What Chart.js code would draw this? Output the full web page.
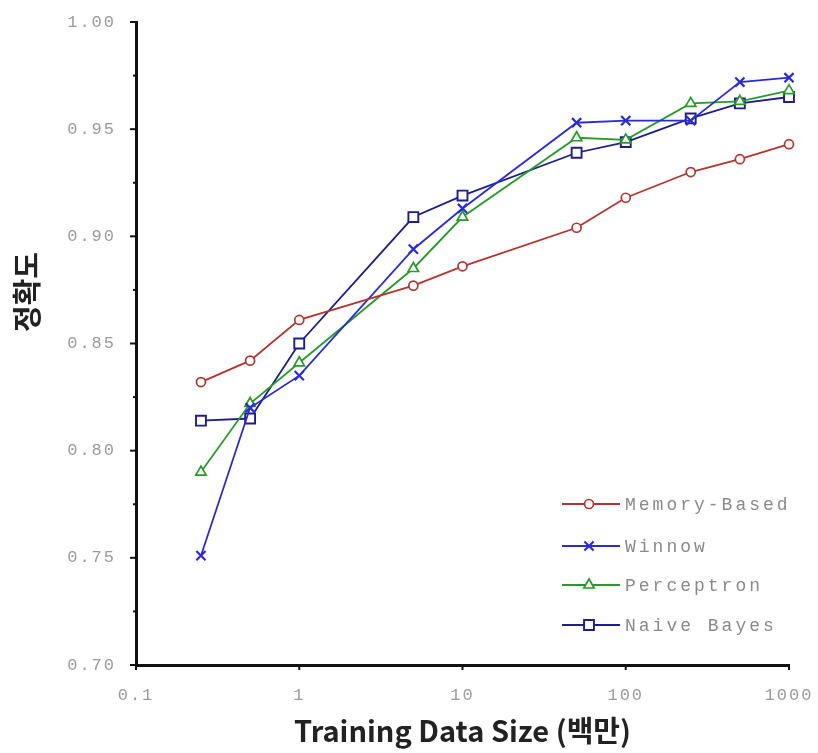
<!DOCTYPE html>
<html>
<head>
<meta charset="utf-8">
<script src="https://cdn.jsdelivr.net/npm/chart.js@4.4.1/dist/chart.umd.min.js"></script>
<style>
html,body{margin:0;padding:0;background:#fff;}
#wrap{width:818px;height:753px;}
</style>
</head>
<body>
<div id="wrap"><canvas id="c" width="818" height="753"></canvas></div>
<script>
// ---- data ----
const sizes = [0.25, 0.5, 1, 5, 10, 50, 100, 250, 500, 1000];
const memoryBased = [0.832, 0.842, 0.861, 0.877, 0.886, 0.904, 0.918, 0.930, 0.936, 0.943];
const winnow      = [0.751, 0.820, 0.835, 0.894, 0.913, 0.953, 0.954, 0.954, 0.972, 0.974];
const perceptron  = [0.790, 0.822, 0.841, 0.885, 0.909, 0.946, 0.945, 0.962, 0.963, 0.968];
const naiveBayes  = [0.814, 0.815, 0.850, 0.909, 0.919, 0.939, 0.944, 0.955, 0.962, 0.965];
const seriesNames = ['Memory-Based', 'Winnow', 'Perceptron', 'Naive Bayes'];
const xTicks = [0.1, 1, 10, 100, 1000];
const xTickLabels = ['0.1', '1', '10', '100', '1000'];
const yTicks = [0.70, 0.725, 0.75, 0.775, 0.80, 0.825, 0.85, 0.875, 0.90, 0.925, 0.95, 0.975, 1.00];
const yTickLabels = ['0.70', '', '0.75', '', '0.80', '', '0.85', '', '0.90', '', '0.95', '', '1.00'];
const xTitle = 'Training Data Size (백만)';
const yTitle = '정확도';

const styles = [
  {color: '#b5332e', pointStyle: 'circle', radius: 4.5, bw: 1.7},
  {color: '#2b2bd6', pointStyle: 'crossRot', radius: 6.5, bw: 2.2},
  {color: '#289a2a', pointStyle: 'triangle', radius: 6, bw: 1.7},
  {color: '#1d1d8c', pointStyle: 'rect', radius: 7, bw: 1.9}
];
const allSeries = [memoryBased, winnow, perceptron, naiveBayes];

const datasets = allSeries.map((vals, i) => ({
  label: seriesNames[i],
  data: sizes.map((x, j) => ({x: x, y: vals[j]})),
  borderColor: styles[i].color,
  backgroundColor: '#ffffff',
  pointBorderColor: styles[i].color,
  pointBackgroundColor: '#ffffff',
  pointStyle: styles[i].pointStyle,
  pointRadius: styles[i].radius,
  pointBorderWidth: styles[i].bw,
  borderWidth: 1.8,
  tension: 0,
  fill: false,
  clip: false
}));

const AXIS_LEFT = 136, AXIS_BOTTOM_H = 88;

function zeroPad(scale) {
  scale.paddingLeft = 0; scale.paddingRight = 0;
  scale.paddingTop = 0; scale.paddingBottom = 0;
}

const extras = {
  id: 'extras',
  beforeDraw(chart) {
    chart.ctx.letterSpacing = '2px';
  },
  afterDraw(chart) {
    const ctx = chart.ctx;
    const xs = chart.scales.x, ys = chart.scales.y;
    ctx.save();
    ctx.letterSpacing = '0px';
    // tick marks
    ctx.strokeStyle = '#111';
    ctx.lineWidth = 2;
    yTicks.forEach((v, i) => {
      const py = ys.getPixelForValue(v);
      const len = yTickLabels[i] ? 6 : 3;
      ctx.beginPath();
      ctx.moveTo(xs.left - len, py);
      ctx.lineTo(xs.left, py);
      ctx.stroke();
    });
    xTicks.forEach(v => {
      const px = xs.getPixelForValue(v);
      ctx.beginPath();
      ctx.moveTo(px, ys.bottom);
      ctx.lineTo(px, ys.bottom + 5);
      ctx.stroke();
    });
    // legend
    const rows = [504, 546, 585, 625];
    chart.data.datasets.forEach((ds, i) => {
      const y = rows[i];
      ctx.strokeStyle = ds.borderColor;
      ctx.lineWidth = 1.8;
      ctx.beginPath();
      ctx.moveTo(562, y);
      ctx.lineTo(620, y);
      ctx.stroke();
      drawMarker(ctx, ds.pointStyle, 589, y, ds.pointRadius, ds.borderColor, ds.pointBorderWidth);
      ctx.fillStyle = '#8a8a8a';
      ctx.font = '18px "Liberation Mono", "DejaVu Sans Mono", monospace';
      ctx.letterSpacing = '3px';
      ctx.textAlign = 'left';
      ctx.textBaseline = 'middle';
      ctx.fillText(ds.label, 625, y + 1);
      ctx.letterSpacing = '0px';
    });
    // titles
    ctx.fillStyle = '#222';
    ctx.font = 'bold 29px "Noto Sans CJK KR", "Noto Sans", sans-serif';
    ctx.textAlign = 'center';
    ctx.textBaseline = 'middle';
    ctx.fillText(xTitle, (xs.left + xs.right) / 2, 731);
    ctx.translate(27, 292);
    ctx.rotate(-Math.PI / 2);
    ctx.font = 'bold 29px "Noto Sans CJK KR", sans-serif';
    ctx.fillText(yTitle, 0, 0);
    ctx.restore();
  }
};

function drawMarker(ctx, style, x, y, r, color, bw) {
  ctx.save();
  ctx.strokeStyle = color;
  ctx.fillStyle = '#fff';
  ctx.lineWidth = bw;
  ctx.beginPath();
  if (style === 'circle') {
    ctx.arc(x, y, r, 0, Math.PI * 2);
    ctx.fill(); ctx.stroke();
  } else if (style === 'rect') {
    const s = r * Math.SQRT1_2;
    ctx.rect(x - s, y - s, 2 * s, 2 * s);
    ctx.fill(); ctx.stroke();
  } else if (style === 'triangle') {
    ctx.moveTo(x, y - r);
    ctx.lineTo(x + r * Math.cos(Math.PI / 6), y + r / 2);
    ctx.lineTo(x - r * Math.cos(Math.PI / 6), y + r / 2);
    ctx.closePath();
    ctx.fill(); ctx.stroke();
  } else if (style === 'crossRot') {
    const s = r * Math.SQRT1_2;
    ctx.moveTo(x - s, y - s); ctx.lineTo(x + s, y + s);
    ctx.moveTo(x - s, y + s); ctx.lineTo(x + s, y - s);
    ctx.stroke();
  }
  ctx.restore();
}

new Chart(document.getElementById('c'), {
  type: 'line',
  data: {datasets: datasets},
  options: {
    responsive: false,
    animation: false,
    layout: {autoPadding: false, padding: {left: 0, right: 29, top: 22, bottom: 0}},
    plugins: {legend: {display: false}, tooltip: {enabled: false}, title: {display: false}},
    scales: {
      x: {
        type: 'logarithmic',
        min: 0.1, max: 1000,
        afterBuildTicks(scale) { scale.ticks = xTicks.map(v => ({value: v, major: true})); },
        afterFit(scale) { scale.height = AXIS_BOTTOM_H; zeroPad(scale); },
        grid: {display: true, drawOnChartArea: false, drawTicks: false},
        border: {display: true, color: '#111', width: 3},
        ticks: {
          padding: 20,
          color: '#9a9a9a',
          font: {family: '"Liberation Mono", "DejaVu Sans Mono", monospace', size: 17},
          maxRotation: 0, autoSkip: false,
          callback(value) { const k = xTicks.indexOf(value); return k >= 0 ? xTickLabels[k] : ''; }
        }
      },
      y: {
        type: 'linear',
        min: 0.70, max: 1.00,
        afterBuildTicks(scale) { scale.ticks = yTicks.map(v => ({value: v})); },
        afterFit(scale) { scale.width = AXIS_LEFT; zeroPad(scale); },
        grid: {display: true, drawOnChartArea: false, drawTicks: false},
        border: {display: true, color: '#111', width: 3},
        ticks: {
          padding: 20,
          color: '#9a9a9a',
          font: {family: '"Liberation Mono", "DejaVu Sans Mono", monospace', size: 17},
          autoSkip: false,
          callback(value, index) { return yTickLabels[index]; }
        }
      }
    }
  },
  plugins: [extras]
});
</script>
</body>
</html>
